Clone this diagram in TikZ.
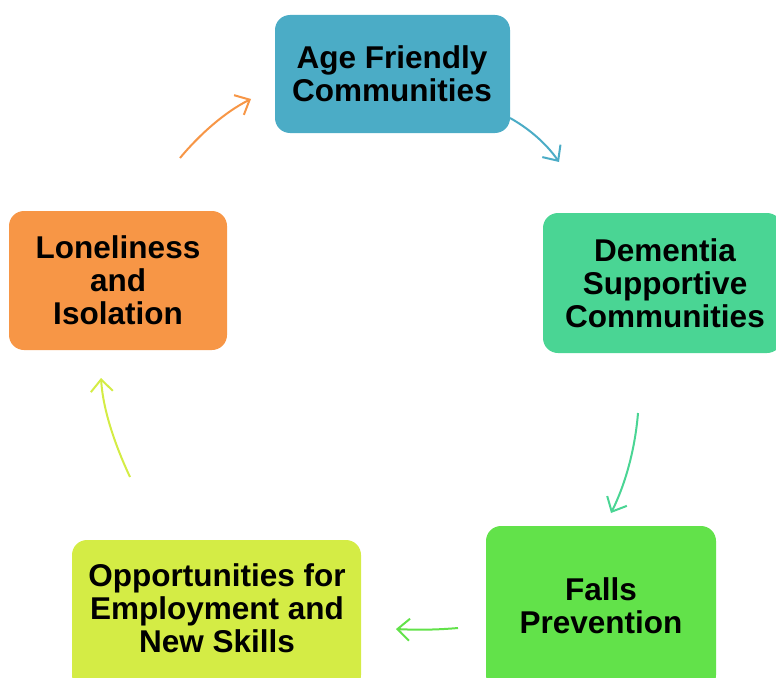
\documentclass[tikz,border=0pt]{standalone}
\usepackage{fontspec}
\setmainfont{Liberation Sans}
\usetikzlibrary{arrows.meta}
\definecolor{cAge}{HTML}{4BACC6}
\definecolor{cDem}{HTML}{4AD594}
\definecolor{cFall}{HTML}{62E24A}
\definecolor{cOpp}{HTML}{D4EC45}
\definecolor{cLon}{HTML}{F79646}
\tikzset{
  box/.style={rounded corners=15pt, inner sep=0pt, align=center,
    font=\fontsize{31.5}{33}\selectfont\bfseries},
  conn/.style={line width=2pt, -{Straight Barb[length=12pt,width=22pt,line width=2pt]}},
}
\begin{document}
\begin{tikzpicture}[x=1pt,y=-1pt]
\useasboundingbox (0,0) rectangle (776,677);
\clip (0,0) rectangle (776,677);
% boxes
\fill[cAge, rounded corners=15pt] (275,15) rectangle (510,133);
\fill[cDem, rounded corners=15pt] (543,213) rectangle (782,353);
\fill[cFall, rounded corners=15pt] (486,526) rectangle (716,690);
\fill[cOpp, rounded corners=15pt] (72,540) rectangle (361,690);
\fill[cLon, rounded corners=15pt] (9,211) rectangle (227,350);
% texts
\node[box] (age) at (392,74) {Age Friendly\\Communities};
\node[box] (dem) at (665,283) {Dementia\\Supportive\\Communities};
\node[box] (fall) at (601,606) {Falls\\Prevention};
\node[box] (opp) at (217,608) {Opportunities for\\Employment and\\New Skills};
\node[box] (lon) at (118,280) {Loneliness\\and\\Isolation};
% connector end points
\coordinate (a1) at (180,158); \coordinate (a2) at (251,99);
\coordinate (b1) at (510,118); \coordinate (b2) at (559,162);
\coordinate (c1) at (638,413); \coordinate (c2) at (611,513);
\coordinate (d1) at (458,628); \coordinate (d2) at (396,629);
\coordinate (e1) at (130,477); \coordinate (e2) at (101,378);
\draw[conn, cLon] (a1) .. controls (200,134) and (225,112) .. (a2);
\draw[conn, cAge] (b1) .. controls (528,128) and (546,143) .. (b2);
\draw[conn, cDem] (c1) .. controls (635,450) and (625,485) .. (c2);
\draw[conn, cFall] (d1) .. controls (435,630) and (415,630) .. (d2);
\draw[conn, cOpp] (e1) .. controls (115,445) and (103,410) .. (e2);
\end{tikzpicture}
\end{document}
